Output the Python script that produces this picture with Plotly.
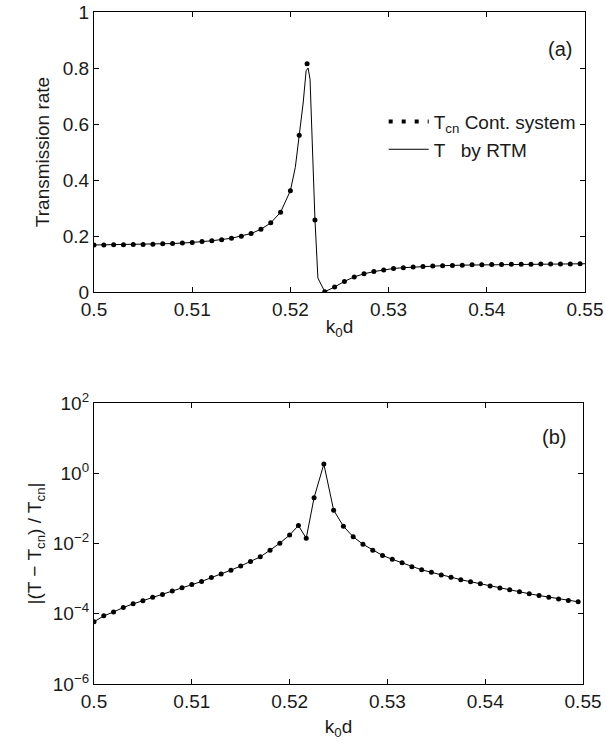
import plotly.graph_objects as go

# ---- data ----
k0d = [0.500, 0.501, 0.502, 0.503, 0.504, 0.505, 0.506, 0.507, 0.508, 0.509,
       0.510, 0.511, 0.512, 0.513, 0.514, 0.515, 0.516, 0.517, 0.518, 0.519,
       0.520, 0.5209, 0.5217, 0.5225, 0.5235, 0.5245, 0.5255, 0.5265, 0.5275,
       0.5285, 0.5295, 0.5305, 0.5315, 0.5325, 0.5335, 0.5345, 0.5355, 0.5365,
       0.5375, 0.5385, 0.5395, 0.5405, 0.5415, 0.5425, 0.5435, 0.5445, 0.5455,
       0.5465, 0.5475, 0.5485, 0.5495]

t_cn = [0.168, 0.168, 0.169, 0.169, 0.170, 0.170, 0.171, 0.172, 0.173, 0.175,
        0.177, 0.180, 0.183, 0.187, 0.192, 0.199, 0.209, 0.224, 0.247, 0.285,
        0.362, 0.560, 0.815, 0.257, 0.001, 0.018, 0.038, 0.054, 0.065,
        0.073, 0.079, 0.084, 0.087, 0.089, 0.091, 0.093, 0.094, 0.095,
        0.096, 0.097, 0.097, 0.098, 0.098, 0.099, 0.099, 0.099, 0.100,
        0.100, 0.100, 0.100, 0.101]

# RTM curve (solid line), extra samples around the resonance
k0d_rtm = [0.500, 0.502, 0.504, 0.506, 0.508, 0.510, 0.512, 0.514, 0.516, 0.517,
           0.518, 0.519, 0.520, 0.5205, 0.5209, 0.5213, 0.5216, 0.5218, 0.5220,
           0.5225, 0.5228, 0.5235, 0.5245, 0.5255, 0.5265, 0.5275, 0.5285,
           0.5295, 0.5305, 0.5315, 0.5325, 0.5335, 0.5355, 0.5375, 0.5395,
           0.5415, 0.5435, 0.5455, 0.5475, 0.5495, 0.5500]
t_rtm = [0.168, 0.169, 0.170, 0.171, 0.173, 0.177, 0.183, 0.192, 0.209, 0.224,
         0.247, 0.285, 0.362, 0.445, 0.555, 0.675, 0.790, 0.800, 0.760,
         0.260, 0.050, 0.001, 0.018, 0.038, 0.054, 0.065, 0.073,
         0.079, 0.084, 0.087, 0.089, 0.091, 0.094, 0.096, 0.097,
         0.098, 0.099, 0.100, 0.100, 0.101, 0.101]

rel_err = [5.9e-5, 8.7e-5, 1.12e-4, 1.51e-4, 1.91e-4, 2.34e-4, 2.95e-4, 3.55e-4,
           4.47e-4, 5.5e-4, 6.76e-4, 8.3e-4, 1.07e-3, 1.35e-3, 1.74e-3, 2.29e-3,
           3.09e-3, 4.17e-3, 6.46e-3, 1.02e-2, 1.74e-2, 3.24e-2, 1.41e-2, 0.20,
           1.82, 8.9e-2, 3.09e-2, 1.55e-2, 9.5e-3, 6.46e-3, 4.57e-3, 3.55e-3,
           2.82e-3, 2.19e-3, 1.78e-3, 1.51e-3, 1.26e-3, 1.10e-3, 9.3e-4, 8.1e-4,
           7.1e-4, 6.2e-4, 5.4e-4, 4.8e-4, 4.2e-4, 3.7e-4, 3.3e-4, 2.95e-4,
           2.63e-4, 2.4e-4, 2.19e-4]

x_ticks = [0.50, 0.51, 0.52, 0.53, 0.54, 0.55]
x_ticktext = ["0.5", "0.51", "0.52", "0.53", "0.54", "0.55"]
y1_ticks = [0, 0.2, 0.4, 0.6, 0.8, 1.0]
y1_ticktext = ["0", "0.2", "0.4", "0.6", "0.8", "1"]
y2_ticks = [1e-6, 1e-4, 1e-2, 1e0, 1e2]
y2_ticktext = ["10<sup>\u22126</sup>", "10<sup>\u22124</sup>", "10<sup>\u22122</sup>",
               "10<sup>0</sup>", "10<sup>2</sup>"]

FONT = "Liberation Sans, Arial, Helvetica, sans-serif"
TXT = "#1a1a1a"
FS = 19

fig = go.Figure()

# top panel
fig.add_trace(go.Scatter(x=k0d, y=t_cn, mode="markers",
                         marker=dict(color="black", size=5),
                         showlegend=False, xaxis="x", yaxis="y"))
fig.add_trace(go.Scatter(x=k0d_rtm, y=t_rtm, mode="lines",
                         line=dict(color="black", width=1),
                         showlegend=False, xaxis="x", yaxis="y"))
# legend entries
fig.add_trace(go.Scatter(x=[None], y=[None], mode="lines",
                         line=dict(color="black", width=4, dash="4px,9px"),
                         name="T<sub>cn</sub> Cont. system", xaxis="x", yaxis="y"))
fig.add_trace(go.Scatter(x=[None], y=[None], mode="lines",
                         line=dict(color="black", width=1),
                         name="T   by RTM", xaxis="x", yaxis="y"))

# bottom panel
fig.add_trace(go.Scatter(x=k0d, y=rel_err, mode="lines+markers",
                         line=dict(color="black", width=1),
                         marker=dict(color="black", size=5),
                         showlegend=False, xaxis="x2", yaxis="y2"))

axis_common = dict(showline=True, linecolor="black", linewidth=1.2, mirror="ticks",
                   ticks="inside", ticklen=5, tickwidth=1, tickcolor="black",
                   showgrid=False, zeroline=False, automargin=False,
                   tickfont=dict(family=FONT, size=FS, color=TXT))

title_font = dict(family=FONT, size=FS, color=TXT)

fig.update_layout(
    width=606, height=747,
    margin=dict(l=94, r=21, t=12, b=63),
    paper_bgcolor="white", plot_bgcolor="white",
    font=dict(family=FONT, size=FS, color=TXT),
    xaxis=dict(domain=[0, 1], anchor="y", range=[0.5, 0.55],
               tickvals=x_ticks, ticktext=x_ticktext,
               title=dict(text="k<sub>0</sub>d", standoff=0, font=title_font),
               **axis_common),
    yaxis=dict(domain=[0.5833, 1], anchor="x", range=[0, 1],
               tickvals=y1_ticks, ticktext=y1_ticktext,
               title=dict(text="Transmission rate", standoff=8, font=title_font),
               **axis_common),
    xaxis2=dict(domain=[0, 0.996], anchor="y2", range=[0.5, 0.55],
                tickvals=x_ticks, ticktext=x_ticktext,
                title=dict(text="k<sub>0</sub>d", standoff=8, font=title_font),
                **axis_common),
    yaxis2=dict(domain=[0, 0.4182], anchor="x2", type="log", range=[-6, 2],
                tickvals=y2_ticks, ticktext=y2_ticktext,
                title=dict(text="|(T \u2212 T<sub>cn</sub>) / T<sub>cn</sub>|", standoff=6,
                           font=title_font),
                **axis_common),
    legend=dict(x=0.59, y=0.865, xanchor="left", yanchor="top",
                bgcolor="rgba(0,0,0,0)", borderwidth=0,
                font=dict(family=FONT, size=FS, color=TXT),
                tracegroupgap=0, itemwidth=40),
    annotations=[
        dict(text="(a)", x=0.949, y=0.945, xref="paper", yref="paper",
             xanchor="center", yanchor="middle", showarrow=False,
             font=dict(family=FONT, size=20, color=TXT)),
        dict(text="(b)", x=0.937, y=0.3676, xref="paper", yref="paper",
             xanchor="center", yanchor="middle", showarrow=False,
             font=dict(family=FONT, size=20, color=TXT)),
    ],
)

# remove the default 8px page margin so the figure sits at the window's corner
fig.write_html("out.html", config={"displayModeBar": False},
               post_script="document.body.style.margin='0';document.body.style.overflow='hidden';")
